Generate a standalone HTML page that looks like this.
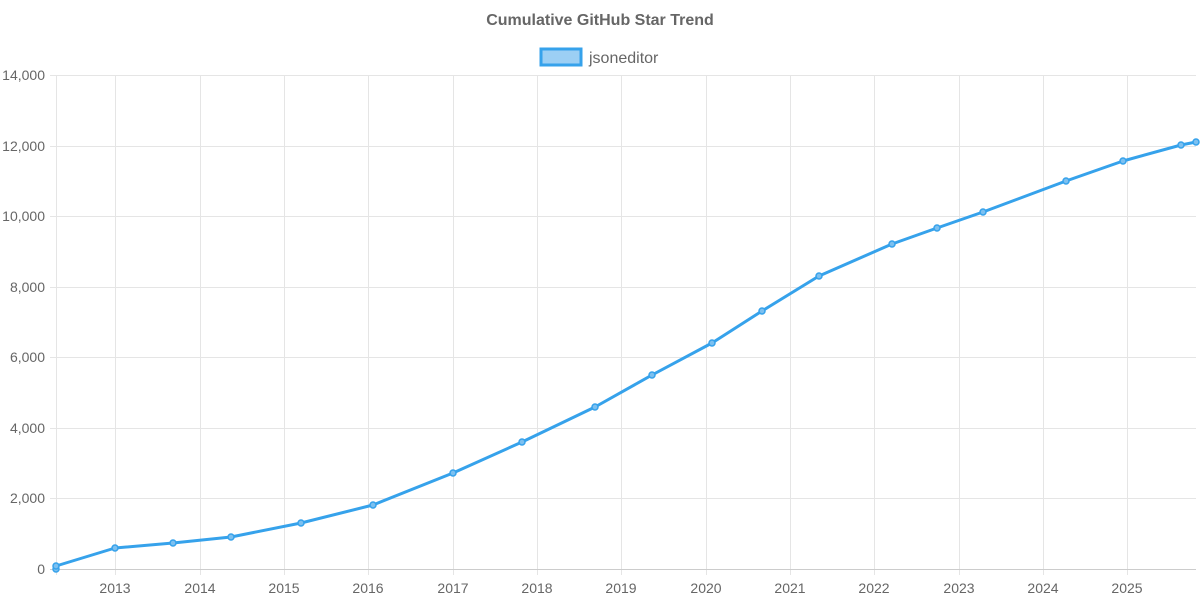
<!DOCTYPE html>
<html><head><meta charset="utf-8"><style>
body{margin:0;background:#fff;}
svg{display:block;font-family:"Liberation Sans",sans-serif;}
</style></head><body>
<svg width="1200" height="600" xmlns="http://www.w3.org/2000/svg">
<rect width="1200" height="600" fill="#fff"/>
<text x="600" y="25" text-anchor="middle" font-size="16" font-weight="bold" fill="#666">Cumulative GitHub Star Trend</text>
<rect x="541" y="49" width="40" height="16" fill="#9ccff4" stroke="#36a2eb" stroke-width="3"/>
<text x="589" y="63" font-size="16" fill="#666">jsoneditor</text>
<g stroke="#e5e5e5" stroke-width="1">
<line x1="50" y1="75.5" x2="1196" y2="75.5"/>
<line x1="50" y1="146.5" x2="1196" y2="146.5"/>
<line x1="50" y1="216.5" x2="1196" y2="216.5"/>
<line x1="50" y1="287.5" x2="1196" y2="287.5"/>
<line x1="50" y1="357.5" x2="1196" y2="357.5"/>
<line x1="50" y1="428.5" x2="1196" y2="428.5"/>
<line x1="50" y1="498.5" x2="1196" y2="498.5"/>
<line x1="56.5" y1="75" x2="56.5" y2="575"/>
<line x1="115.5" y1="75" x2="115.5" y2="575"/>
<line x1="200.5" y1="75" x2="200.5" y2="575"/>
<line x1="284.5" y1="75" x2="284.5" y2="575"/>
<line x1="368.5" y1="75" x2="368.5" y2="575"/>
<line x1="453.5" y1="75" x2="453.5" y2="575"/>
<line x1="537.5" y1="75" x2="537.5" y2="575"/>
<line x1="621.5" y1="75" x2="621.5" y2="575"/>
<line x1="706.5" y1="75" x2="706.5" y2="575"/>
<line x1="790.5" y1="75" x2="790.5" y2="575"/>
<line x1="874.5" y1="75" x2="874.5" y2="575"/>
<line x1="959.5" y1="75" x2="959.5" y2="575"/>
<line x1="1043.5" y1="75" x2="1043.5" y2="575"/>
<line x1="1127.5" y1="75" x2="1127.5" y2="575"/>
</g>
<line x1="50" y1="569.5" x2="1196" y2="569.5" stroke="#ccc"/>
<g font-size="14" fill="#666" text-anchor="end">
<text x="45" y="80">14,000</text><text x="45" y="151">12,000</text><text x="45" y="221">10,000</text>
<text x="45" y="292">8,000</text><text x="45" y="362">6,000</text><text x="45" y="433">4,000</text>
<text x="45" y="503">2,000</text><text x="45" y="574">0</text>
</g>
<g font-size="14" fill="#666" text-anchor="middle">
<text x="115" y="593">2013</text><text x="200" y="593">2014</text><text x="284" y="593">2015</text>
<text x="368" y="593">2016</text><text x="453" y="593">2017</text><text x="537" y="593">2018</text>
<text x="621" y="593">2019</text><text x="706" y="593">2020</text><text x="790" y="593">2021</text>
<text x="874" y="593">2022</text><text x="959" y="593">2023</text><text x="1043" y="593">2024</text>
<text x="1127" y="593">2025</text>
</g>
<polyline fill="none" stroke="#36a2eb" stroke-width="3" stroke-linejoin="round" points="56,569 56,566 115,548 173,543 231,537 301,523 373,505 453,473 522,442 595,407 652,375 712,343 762,311 819,276 892,244 937,228 983,212 1066,181 1123,161 1181,145 1196,142"/>
<g fill="#7cc0f0" stroke="#36a2eb" stroke-width="1.5">
<circle cx="56" cy="569" r="3"/><circle cx="56" cy="566" r="3"/><circle cx="115" cy="548" r="3"/><circle cx="173" cy="543" r="3"/><circle cx="231" cy="537" r="3"/><circle cx="301" cy="523" r="3"/><circle cx="373" cy="505" r="3"/><circle cx="453" cy="473" r="3"/><circle cx="522" cy="442" r="3"/><circle cx="595" cy="407" r="3"/><circle cx="652" cy="375" r="3"/><circle cx="712" cy="343" r="3"/><circle cx="762" cy="311" r="3"/><circle cx="819" cy="276" r="3"/><circle cx="892" cy="244" r="3"/><circle cx="937" cy="228" r="3"/><circle cx="983" cy="212" r="3"/><circle cx="1066" cy="181" r="3"/><circle cx="1123" cy="161" r="3"/><circle cx="1181" cy="145" r="3"/><circle cx="1196" cy="142" r="3"/>
</g>
</svg>
</body></html>
